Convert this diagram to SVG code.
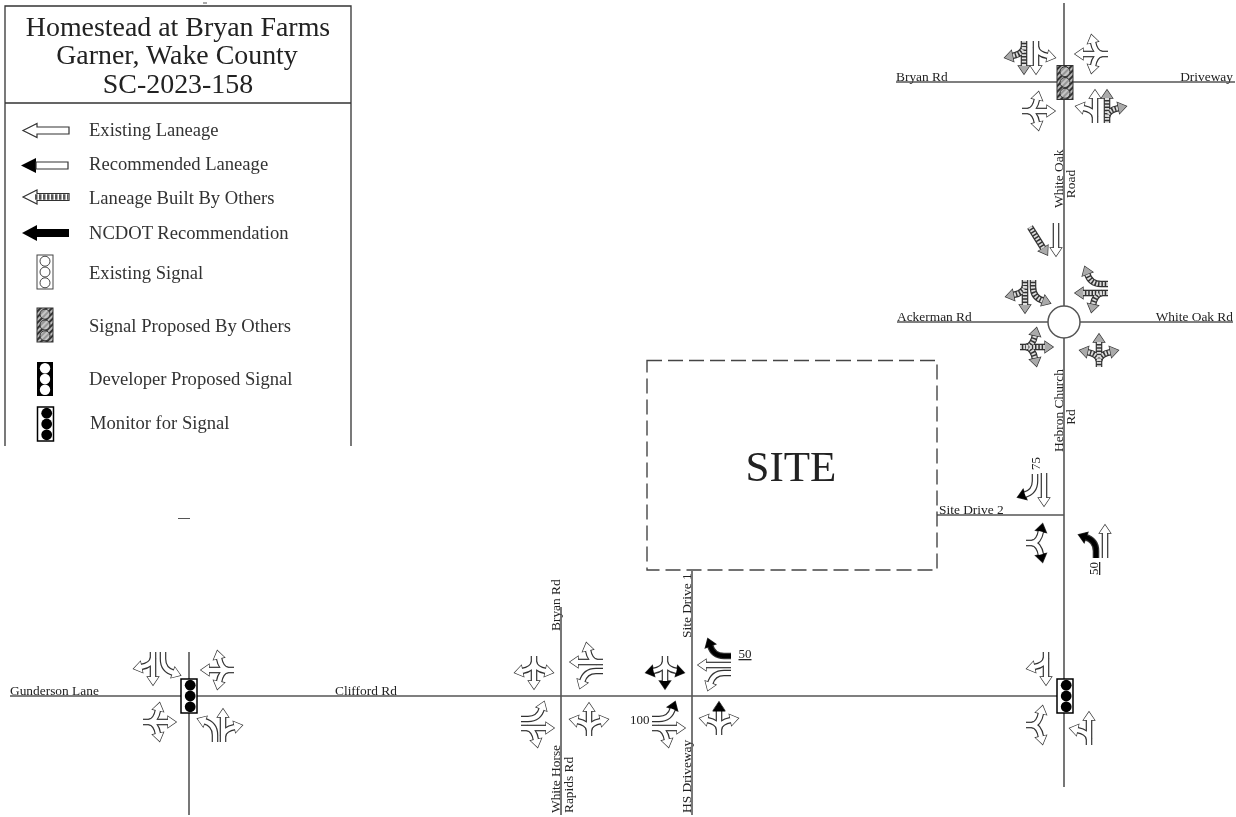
<svg xmlns="http://www.w3.org/2000/svg" width="1236" height="817" viewBox="0 0 1236 817">
<style>
text{font-family:"Liberation Serif","Times New Roman",serif;fill:#222}
.t{font-size:27.900px}
.rl{font-size:13px;text-decoration:underline}
.r{font-size:13.400px}
.lg{font-size:18.600px;fill:#333}
.road{stroke:#555;stroke-width:1.600;fill:none}
.s{fill:none;stroke:var(--c);stroke-width:var(--w);stroke-dasharray:var(--d,none)}
.h{fill:var(--hc,var(--c));stroke:var(--hc,var(--c));stroke-width:var(--hw)}
.o{--c:#333;--w:6.600px;--hw:1.300px;--d:none}
.i{--c:var(--ic,#fff);--w:4.200px;--hw:0px;--d:var(--id,none);--hc:var(--hi,var(--ic,#fff))}
.hat{--ic:#ddd;--id:1.800 1.500;--hi:#aaa}
.blk{--ic:#000;--hi:#000}
.bh{--hi:#000}
</style>
<defs>
<pattern id="hp" width="4" height="4" patternUnits="userSpaceOnUse" patternTransform="rotate(45)"><rect width="4" height="4" fill="#bbb"/><rect width="2" height="4" fill="#333"/></pattern>
<polygon id="hd" class="h" points="-5.500,0 5.500,0 0,-8"/>
<g id="T0"><path class="s" d="M0,0V-25"/><use href="#hd" transform="translate(0,-25)"/></g>
<g id="L0"><path class="s" d="M0,0V-7Q0,-18 -11,-21"/><use href="#hd" transform="translate(-10,-20.500) rotate(-70)"/></g>
<g id="R0"><path class="s" d="M0,0V-7Q0,-18 11,-21"/><use href="#hd" transform="translate(10,-20.500) rotate(70)"/></g>
<g id="FL"><path class="s" d="M0,-6Q-1,-13 -12,-15"/></g>
<g id="FR"><path class="s" d="M0,-6Q1,-13 12,-15"/></g>
<g id="HL"><use href="#hd" transform="translate(-11.500,-15) rotate(-78)"/></g>
<g id="HR"><use href="#hd" transform="translate(11.500,-15) rotate(78)"/></g>
<g id="T1"><use href="#T0" class="o"/><use href="#T0" class="i"/></g>
<g id="L1"><use href="#L0" class="o"/><use href="#L0" class="i"/></g>
<g id="R1"><use href="#R0" class="o"/><use href="#R0" class="i"/></g>
<g id="LT0"><use href="#T0"/><use href="#FL"/><use href="#HL"/></g>
<g id="TR0"><use href="#T0"/><use href="#FR"/><use href="#HR"/></g>
<g id="LTR0"><use href="#T0"/><use href="#FL"/><use href="#FR"/><use href="#HL"/><use href="#HR"/></g>
<g id="LR0"><path class="s" d="M0,0V-7"/><use href="#FL"/><use href="#FR"/><use href="#HL"/><use href="#HR"/></g>
<g id="LT"><use href="#LT0" class="o"/><use href="#LT0" class="i"/></g>
<g id="TR"><use href="#TR0" class="o"/><use href="#TR0" class="i"/></g>
<g id="LTR"><use href="#LTR0" class="o"/><use href="#LTR0" class="i"/></g>
<g id="LR"><use href="#LR0" class="o"/><use href="#LR0" class="i"/></g>
<polygon id="bk" points="-6.500,1 6.500,1 0,-9" fill="#000"/>
<g id="sig"><rect x="-8" y="-17" width="16" height="34" fill="#fff" stroke="#444" stroke-width="1"/><g fill="none" stroke="#444" stroke-width="1"><circle cy="-10.800" r="5"/><circle r="5"/><circle cy="10.800" r="5"/></g></g>
<g id="sigH"><rect x="-8" y="-17" width="16" height="34" fill="url(#hp)" stroke="#333" stroke-width="1"/><g fill="#ccc" stroke="#333" stroke-width="1" fill-opacity=".65"><circle cy="-10.800" r="5"/><circle r="5"/><circle cy="10.800" r="5"/></g></g>
<g id="sigD"><rect x="-8" y="-17" width="16" height="34" fill="#000"/><g fill="#fff"><circle cy="-10.800" r="5.200"/><circle r="5.200"/><circle cy="10.800" r="5.200"/></g></g>
<g id="sigM"><rect x="-8" y="-17" width="16" height="34" fill="#fff" stroke="#000" stroke-width="1.500"/><g fill="#000"><circle cx="1.200" cy="-10.800" r="5.400"/><circle cx="1.200" r="5.400"/><circle cx="1.200" cy="10.800" r="5.400"/></g></g>
<filter id="soft" x="0" y="0" width="100%" height="100%"><feGaussianBlur stdDeviation="0.55"/></filter>
</defs>
<rect width="1236" height="817" fill="#fff"/>
<g filter="url(#soft)">
<rect width="1236" height="817" fill="#fff"/>
<g id="connectors">
<path class="road" d="M1064,3V306M1064,338V787"/>
<path class="road" d="M896,82H1235"/>
<path class="road" d="M897,322H1048M1080,322H1233"/>
<path class="road" d="M937,515H1064"/>
<path class="road" d="M10,696H1060"/>
<path class="road" d="M692,571V815"/>
<path class="road" d="M561,607V815"/>
<path class="road" d="M189,652V815"/>
</g>
<g id="legend">
<path d="M5,446V6H351V446M5,103H351" fill="none" stroke="#333" stroke-width="1.300"/>
<g text-anchor="middle"><text class="t" x="178" y="36">Homestead at Bryan Farms</text><text class="t" x="177" y="64">Garner, Wake County</text><text class="t" x="178" y="93">SC-2023-158</text></g>
<g id="leg-existing"><path d="M23,130.500L37,123.500V127H69V134H37V137.500Z" fill="#fff" stroke="#333" stroke-width="1.200"/><text class="lg" x="89" y="136">Existing Laneage</text></g>
<g id="leg-recommended"><path d="M36,158V173L21,165.500Z" fill="#000"/><path d="M36,162H68V169H36Z" fill="#fff" stroke="#333" stroke-width="1.200"/><text class="lg" x="89" y="170">Recommended Laneage</text></g>
<g id="leg-others"><path d="M23,197L37,190V193.500H69V200.500H37V204Z" fill="#fff" stroke="#333" stroke-width="1.200"/><path d="M35,197H68" stroke="#555" stroke-width="5.500" stroke-dasharray="2.500 1.500"/><text class="lg" x="89" y="204">Laneage Built By Others</text></g>
<g id="leg-ncdot"><path d="M22,233L37,225V229H69V237H37V241Z" fill="#000"/><text class="lg" x="89" y="239">NCDOT Recommendation</text></g>
<g id="leg-sig1"><use href="#sig" x="45" y="272"/><text class="lg" x="89" y="279">Existing Signal</text></g>
<g id="leg-sig2"><use href="#sigH" x="45" y="325"/><text class="lg" x="89" y="332">Signal Proposed By Others</text></g>
<g id="leg-sig3"><use href="#sigD" x="45" y="379"/><text class="lg" x="89" y="385">Developer Proposed Signal</text></g>
<g id="leg-sig4"><use href="#sigM" x="45.500" y="424"/><text class="lg" x="90" y="429">Monitor for Signal</text></g>
</g>
<g id="site"><rect x="647" y="360.500" width="290" height="209.500" fill="none" stroke="#444" stroke-width="1.400" stroke-dasharray="15 6"/><text x="791" y="481" text-anchor="middle" style="font-size:43px">SITE</text></g>
<g id="int-bryan">
<use href="#TR" class="hat" transform="translate(1024,41) rotate(180)"/>
<use href="#LT" transform="translate(1036,41) rotate(180)"/>
<use href="#LTR" transform="translate(1108,54) rotate(-90)"/>
<use href="#LTR" transform="translate(1022,111) rotate(90)"/>
<use href="#LT" transform="translate(1095,123)"/>
<use href="#TR" class="hat" transform="translate(1107,123)"/>
<use href="#sigH" x="1065" y="82.500"/>
<text class="r" x="896" y="81">Bryan Rd</text><text class="r" x="1233" y="81" text-anchor="end">Driveway</text>
</g>
<g id="int-roundabout">
<use href="#T1" class="hat" transform="translate(1030,227) rotate(148)"/>
<use href="#T1" transform="translate(1056,223) rotate(180)"/>
<use href="#TR" class="hat" transform="translate(1025,280) rotate(180)"/>
<use href="#L1" class="hat" transform="translate(1033,280) rotate(180)"/>
<use href="#R1" class="hat" transform="translate(1108,284) rotate(-90)"/>
<use href="#LT" class="hat" transform="translate(1108,293) rotate(-90)"/>
<use href="#LTR" class="hat" transform="translate(1020,347) rotate(90)"/>
<use href="#LTR" class="hat" transform="translate(1099,367)"/>
<circle cx="1064" cy="322" r="16" fill="#fff" stroke="#555" stroke-width="1.500"/>
<text class="r" x="897" y="321">Ackerman Rd</text><text class="r" x="1233" y="321" text-anchor="end">White Oak Rd</text>
</g>
<g id="int-site2">
<use href="#T1" transform="translate(1044,473) rotate(180)"/>
<use href="#R1" transform="translate(1035,474) rotate(180)" class="bh"/>
<use href="#LR" class="bh" transform="translate(1026,543) rotate(90)"/>
<use href="#T1" transform="translate(1105,558)"/>
<use href="#L1" class="blk" transform="translate(1096,558)"/>
<text class="r" style="font-size:13px" transform="translate(1040,470) rotate(-90)">75</text>
<text class="rl" transform="translate(1098,575) rotate(-90)">50</text>
<text class="r" x="939" y="514">Site Drive 2</text>
</g>
<g id="int-south">
<use href="#TR" transform="translate(1046,652) rotate(180)"/>
<use href="#LR" transform="translate(1026,725) rotate(90)"/>
<use href="#LT" transform="translate(1089,745)"/>
<use href="#sigM" x="1065" y="696"/>
</g>
<g id="int-site1">
<use href="#LTR" class="bh" transform="translate(665,656) rotate(180)"/>
<use href="#R1" class="blk" transform="translate(731,656) rotate(-90)"/>
<use href="#T1" transform="translate(731,665) rotate(-90)"/>
<use href="#L1" transform="translate(731,673) rotate(-90)"/>
<use href="#L1" class="bh" transform="translate(652,719) rotate(90)"/>
<use href="#TR" transform="translate(652,728) rotate(90)"/>
<use href="#LTR" transform="translate(719,735)"/>
<use href="#bk" transform="translate(719,710.500)"/>
<text class="rl" x="745" y="658" text-anchor="middle">50</text>
<text x="630" y="724" style="font-size:13px">100</text>
<text class="r" transform="translate(691,638) rotate(-90)">Site Drive 1</text>
<text class="r" transform="translate(691,813) rotate(-90)">HS Driveway</text>
</g>
<g id="int-whitehorse">
<use href="#LTR" transform="translate(534,656) rotate(180)"/>
<use href="#TR" transform="translate(603,662) rotate(-90)"/>
<use href="#L1" transform="translate(603,671) rotate(-90)"/>
<use href="#L1" transform="translate(521,719) rotate(90)"/>
<use href="#TR" transform="translate(521,728) rotate(90)"/>
<use href="#LTR" transform="translate(589,736)"/>
<text class="r" transform="translate(560,631) rotate(-90)">Bryan Rd</text>
<text class="r" transform="translate(560,813) rotate(-90)">White Horse</text>
<text class="r" transform="translate(573,813) rotate(-90)">Rapids Rd</text>
</g>
<g id="int-gunderson">
<use href="#TR" transform="translate(153,652) rotate(180)"/>
<use href="#L1" transform="translate(163,652) rotate(180)"/>
<use href="#LTR" transform="translate(234,670) rotate(-90)"/>
<use href="#LTR" transform="translate(143,722) rotate(90)"/>
<use href="#L1" transform="translate(215,742)"/>
<use href="#TR" transform="translate(223,742)"/>
<use href="#sigM" x="189" y="696"/>
<text class="r" x="10" y="695">Gunderson Lane</text>
<text class="r" x="335" y="695">Clifford Rd</text>
</g>
<g id="road-labels">
<text class="r" transform="translate(1063,208) rotate(-90)">White Oak</text>
<text class="r" text-anchor="middle" transform="translate(1075,184) rotate(-90)">Road</text>
<text class="r" transform="translate(1063,452) rotate(-90)">Hebron Church</text>
<text class="r" text-anchor="middle" transform="translate(1075,417) rotate(-90)">Rd</text>
</g>
<path d="M203,3H207M178,518.500H190" stroke="#555" stroke-width="1"/>
</g>
</svg>
